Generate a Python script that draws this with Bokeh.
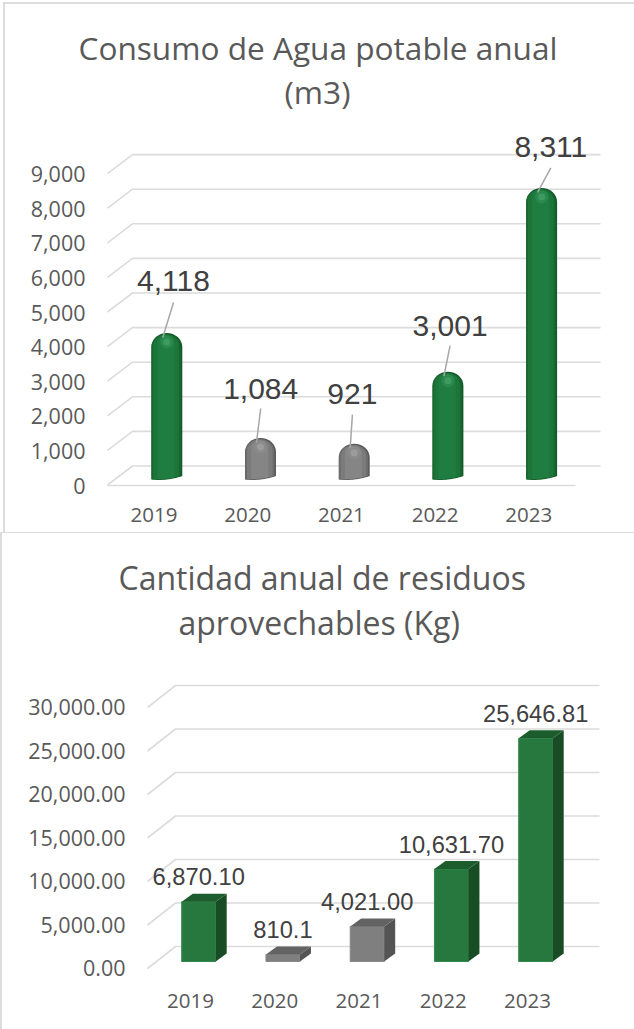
import math
from bokeh.plotting import figure
from bokeh.models import Range1d, FixedTicker, NumeralTickFormatter, Title
from bokeh.core.properties import value
from bokeh.embed import file_html
from bokeh.resources import INLINE

# ---- data ----
years = ["2019", "2020", "2021", "2022", "2023"]
agua_values = [4118, 1084, 921, 3001, 8311]
agua_labels = ["4,118", "1,084", "921", "3,001", "8,311"]
agua_ticks = [0, 1000, 2000, 3000, 4000, 5000, 6000, 7000, 8000, 9000]
residuos_values = [6870.10, 810.1, 4021.00, 10631.70, 25646.81]
residuos_labels = ["6,870.10", "810.1", "4,021.00", "10,631.70", "25,646.81"]
residuos_ticks = [0, 5000, 10000, 15000, 20000, 25000, 30000]
is_gray = [False, True, True, False, False]

GRID = "#dcdcdc"
AXIS_TEXT = "#595959"
LABEL_TEXT = "#404040"
FONT = "Open Sans"
LABEL_FONT = "Liberation Sans"
G = f"linear-gradient({GRID},{GRID})"


def base_figure(height, x0, x_step, y0, y_scale, left, top, bottom, ticks, fmt, standoff):
    w = 634
    p = figure(width=w, height=height, output_backend="svg", toolbar_location=None,
               min_border_left=left, min_border_right=0, min_border_top=top, min_border_bottom=bottom,
               background_fill_color=None, border_fill_color=None, outline_line_color=None)
    p.x_range = Range1d((left - x0) / x_step, (w - x0) / x_step)
    p.y_range = Range1d((y0 - (height - bottom)) / y_scale, (y0 - top) / y_scale)
    p.xgrid.visible = False
    p.ygrid.visible = False
    ya, xa = p.yaxis[0], p.xaxis[0]
    ya.ticker = FixedTicker(ticks=ticks)
    ya.formatter = NumeralTickFormatter(format=fmt)
    ya.major_label_text_font = FONT
    ya.major_label_text_font_size = "21.5px"
    ya.major_label_text_color = AXIS_TEXT
    ya.major_label_standoff = 1
    xa.ticker = FixedTicker(ticks=list(range(len(years))))
    xa.major_label_overrides = {i: y for i, y in enumerate(years)}
    xa.major_label_text_font = FONT
    xa.major_label_text_font_size = "20.5px"
    xa.major_label_text_color = AXIS_TEXT
    xa.major_label_standoff = standoff
    for a in (ya, xa):
        a.axis_line_color = None
        a.major_tick_line_color = None
        a.minor_tick_line_color = None
    return p


def add_titles(p, lines, offsets, standoffs, size):
    for text, off, st in zip(reversed(lines), reversed(offsets), standoffs):
        p.add_layout(Title(text=text, align="left", offset=off, standoff=st,
                           text_font=FONT, text_font_size=size, text_font_style="normal",
                           text_color=AXIS_TEXT), "above")


# ---- top chart: capped cylinders ----
T_H = 533
T_X0, T_STEP = 153.5, 93.7
T_Y0, T_SC = 485.0, 34.6 / 1000
p1 = base_figure(T_H, T_X0, T_STEP, T_Y0, T_SC, 92, 112, 45, agua_ticks, "0,0", 13)
add_titles(p1, ["Consumo de Agua potable anual", "(m3)"], [-14, 192], [0, -3], "31.6px")
p1.margin = (0, 0, 0, 0)
p1.styles = {"background": f"{G} 3px 2px/631px 2px no-repeat, {G} 3px 2px/2px 530px no-repeat, "
                           f"{G} 0px 531.5px/634px 1.5px no-repeat"}
tx = lambda px: (px - T_X0) / T_STEP
ty = lambda px: (T_Y0 - px) / T_SC

gx, gy = [], []
for t in agua_ticks:
    front = t + 0.5 / T_SC
    back = t + 19.5 / T_SC
    gx.append([tx(107), tx(132), tx(600)])
    gy.append([front, back, back])
gx.append([tx(107), tx(575)])
gy.append([ty(485), ty(485)])
p1.multi_line(gx, gy, line_color=GRID, line_width=1.6)

GREEN_LAYERS = [("#135a2b", 0.0, 1.0, 0), ("#19692f", -0.6, 0.94, 1), ("#1d7539", -0.8, 0.82, 1.5), ("#207d41", -0.8, 0.55, 2)]
GRAY_LAYERS = [("#595959", 0.0, 1.0, 0), ("#6d6d6d", -0.6, 0.94, 1), ("#7b7b7b", -0.8, 0.82, 1.5), ("#858585", -0.8, 0.55, 2)]
HALF = 15.5
xs, ys, fills = [], [], []
for layer in range(4):
    for i, v in enumerate(agua_values):
        col, shift, s, lower = (GRAY_LAYERS if is_gray[i] else GREEN_LAYERS)[layer]
        cx = T_X0 + T_STEP * i + 12.8 + shift
        h = HALF * s
        top_px = 475 - v * T_SC + lower
        dome = 14.0 * s
        n = 16
        px, py = [], []
        for k in range(n + 1):
            a = math.pi * (1 - k / n)
            px.append(cx + h * math.cos(a))
            py.append(top_px + dome - dome * math.sin(a))
        for k in range(n + 1):
            t = 1 - 2 * k / n
            tt = t * s
            px.append(cx + h * t)
            py.append(479 - 1.75 * tt - 1.75 * tt * tt - lower * 0.5)
        xs.append([tx(q) for q in px])
        ys.append([ty(q) for q in py])
        fills.append(col)
p1.patches(xs, ys, fill_color=fills, line_color=None)

bar_cx = [T_X0 + T_STEP * i + 12.8 for i in range(len(years))]
bar_top = [475 - v * T_SC for v in agua_values]
p1.scatter([tx(c) for c in bar_cx], [ty(t + 9) for t in bar_top], size=13, line_color=None,
           fill_color=["#8b8b8b" if g else "#2a8a4d" for g in is_gray])
p1.scatter([tx(c) for c in bar_cx], [ty(t + 9) for t in bar_top], size=7, line_color=None,
           fill_color=["#9c9c9c" if g else "#3d9a60" for g in is_gray])

lab_dx = [19.5, 13, 11, 15, 22]
lab_dy = [51.5, 47.5, 49, 45, 40]
lab_x = [T_X0 + T_STEP * i + lab_dx[i] for i in range(5)]
lab_y = [bar_top[i] - lab_dy[i] for i in range(5)]
lead_gap = [21, 18, 20, 19, 20]
p1.multi_line([[tx(lab_x[i]), tx(bar_cx[i] - 4)] for i in range(5)],
              [[ty(lab_y[i] + lead_gap[i]), ty(bar_top[i] + 4.5)] for i in range(5)],
              line_color="#a6a6a6", line_width=1.5)
p1.text([tx(q) for q in lab_x], [ty(q - 1) for q in lab_y], text=agua_labels, text_align="center",
        text_baseline="middle", text_font=value(LABEL_FONT), text_font_size="30px", text_color=LABEL_TEXT)

# ---- bottom chart: boxes ----
B_H = 496
OFF = 533
B_X0, B_STEP = 190.0, 84.25
B_Y0, B_SC = 967.5 - OFF, 43.5 / 5000
p2 = base_figure(B_H, B_X0, B_STEP, B_Y0, B_SC, 132, 114, 54, residuos_ticks, "0,0.00", 12)
add_titles(p2, ["Cantidad anual de residuos", "aprovechables (Kg)"], [-14, 46], [8, -8], "32px")
p2.margin = (0, 0, 0, 0)
p2.styles = {"background": f"{G} 0px 0px/2px 496px no-repeat"}
bx = lambda px: (px - B_X0) / B_STEP

gx, gy = [], []
for t in residuos_ticks:
    front = t - 0.5 / B_SC
    back = t + 21.5 / B_SC
    gx.append([bx(147), bx(175), bx(599)])
    gy.append([front, back, back])
p2.multi_line(gx, gy, line_color=GRID, line_width=1.6)

BW, DX, DY = 34.0, 11.0, 8.0
base = (967.5 - 961.0) / B_SC
cent = [B_X0 + B_STEP * i + 8.2 for i in range(5)]
tops = [base + v for v in residuos_values]
fx = [bx(c) for c in cent]
p2.vbar(x=fx, width=BW / B_STEP, bottom=base, top=tops,
        fill_color=["#7f7f7f" if g else "#27783f" for g in is_gray],
        line_color=["#8a8a8a" if g else "#338a4c" for g in is_gray], line_width=1)
side_x, side_y, top_x, top_y = [], [], [], []
for i in range(5):
    l, r = cent[i] - BW / 2, cent[i] + BW / 2
    dxd, dyd = DX / B_STEP, DY / B_SC
    side_x.append([bx(r), bx(r) + dxd, bx(r) + dxd, bx(r)])
    side_y.append([base, base + dyd, tops[i] + dyd, tops[i]])
    top_x.append([bx(l), bx(r), bx(r) + dxd, bx(l) + dxd])
    top_y.append([tops[i], tops[i], tops[i] + dyd, tops[i] + dyd])
p2.patches(side_x, side_y, line_color=None, fill_color=["#545454" if g else "#184c24" for g in is_gray])
p2.patches(top_x, top_y, line_color=None, fill_color=["#636363" if g else "#1d5c2d" for g in is_gray])

p2.text(fx, [t + 25 / B_SC for t in tops], text=residuos_labels, text_align="center",
        text_baseline="middle", text_font=value(LABEL_FONT), text_font_size="23.7px", text_color=LABEL_TEXT)

open("out.html", "w").write(file_html([p1, p2], INLINE))
